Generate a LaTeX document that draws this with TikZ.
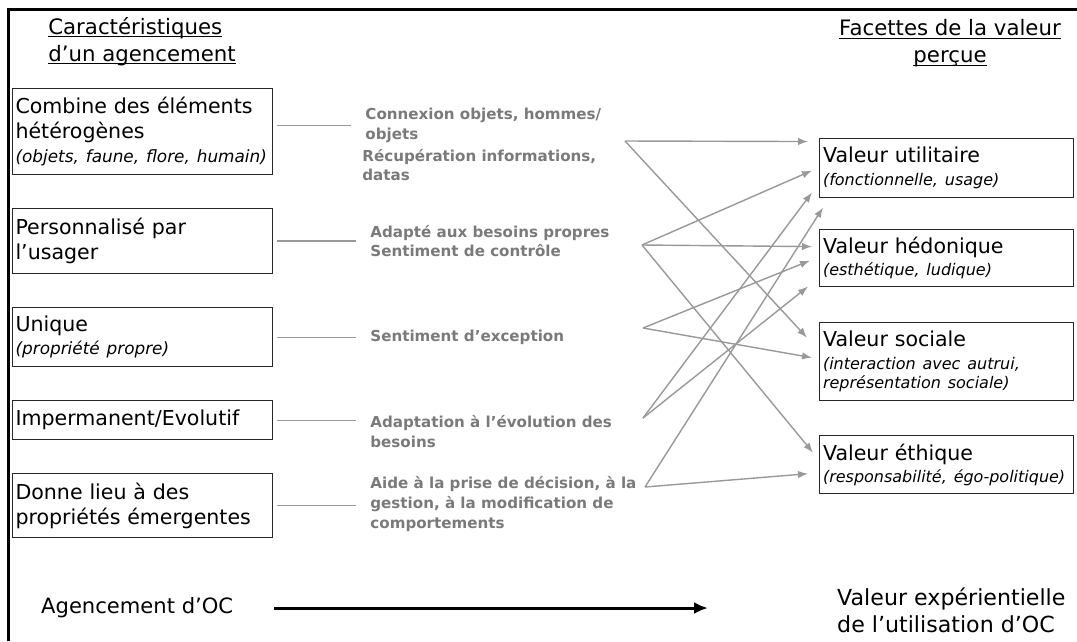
\documentclass[tikz,border=0pt]{standalone}
\usepackage{fontspec}
\setmainfont{DejaVu Sans}
\usetikzlibrary{positioning}
\usetikzlibrary{arrows.meta}
\usetikzlibrary{calc}
\setlength{\parindent}{0pt}
\definecolor{effectgray}{HTML}{7A7A7A}
\definecolor{fangray}{HTML}{999999}
\newcommand{\charnote}[1]{{\par\itshape\fontsize{9.6}{11.3}\selectfont\vspace{2pt}#1\par}}
\newcommand{\facetnote}[1]{{\par\itshape\fontsize{9.1}{11.3}\selectfont\vspace{1.5pt}#1\par}}
\newcommand{\titleline}[1]{\underline{\smash{#1}}\vphantom{#1}}

\begin{document}
\begin{tikzpicture}[x = 0.2mm, y = -0.2mm, node distance = 6.6mm,
    charbox/.style = {draw = black!85, line width = 0.6pt, text width = 50.8mm, inner xsep = 0.6mm, inner ysep = 0.8mm, align = left, font = \fontsize{11.7}{14.2}\selectfont},
    facetbox/.style = {draw = black!85, line width = 0.6pt, text width = 49.4mm, inner xsep = 0.7mm, inner ysep = 0.8mm, align = left, font = \fontsize{11.7}{14.2}\selectfont},
    effect/.style = {text = effectgray, align = left, inner sep = 0.4mm, font = \bfseries\fontsize{8.6}{11.3}\selectfont},
    heading/.style = {inner sep = 0pt, font = \fontsize{12.1}{15.3}\selectfont},
    link/.style = {draw = fangray, line width = 0.7pt, shorten < = 0.8mm, shorten > = 2.4mm},
    fan/.style = {draw = fangray, line width = 0.8pt, -{Latex[length = 2mm, width = 1.5mm]}},
    flow/.style = {draw = black, line width = 1.7pt, -{Latex[length = 2.8mm, width = 2.4mm]}}]
			\useasboundingbox (0,0) rectangle (1077,641);
			\draw[line width = 0.6mm] (8.5,641) -- (8.5,9.5) -- (1077,9.5);
			\node[heading, align = left, anchor = north west] (lefthead) at (48,17) {\titleline{Caractéristiques}\\\titleline{d’un agencement}};
			\node[heading, align = center, anchor = north] (righthead) at (950,19) {\titleline{Facettes de la valeur}\\\titleline{perçue}};
			\node[charbox, minimum height = 17.2mm, anchor = north west] (combine) at (12,88) {Combine des éléments\\hétérogènes\charnote{(objets, faune, flore, humain)}};
			\node[charbox, minimum height = 13mm, below = of combine] (perso) {Personnalisé par\\l’usager};
			\node[charbox, minimum height = 11.8mm, below = of perso] (unique) {Unique\charnote{(propriété propre)}};
			\node[charbox, minimum height = 7.8mm, below = of unique] (evolutif) {Impermanent/Evolutif};
			\node[charbox, minimum height = 12.8mm, below = of evolutif] (emerge) {Donne lieu à des\\propriétés émergentes};
			\node[effect, right = 19mm of combine, yshift = 1.2mm, xshift = -1mm] (connexion) {Connexion objets, hommes/\\objets};
			\node[effect, below = 0.3mm of connexion.south west, anchor = north west, xshift = -0.6mm] (recup) {Récupération informations,\\datas};
			\node[effect, right = 19mm of perso] (besoins) {Adapté aux besoins propres\\Sentiment de contrôle};
			\node[effect, right = 19mm of unique] (exception) {Sentiment d’exception};
			\node[effect, right = 19mm of evolutif, yshift = -2.3mm] (adaptation) {Adaptation à l’évolution des\\besoins};
			\node[effect, right = 19mm of emerge, yshift = 0.4mm] (decision) {Aide à la prise de décision, à la\\gestion, à la modification de\\comportements};
			\draw[link] (connexion.west -| combine.east) -- (connexion.west);
			\draw[link] (perso.east) -- (perso.east -| besoins.west);
			\draw[link] (unique.east) -- (unique.east -| exception.west);
			\draw[link] (evolutif.east) -- (evolutif.east -| adaptation.west);
			\draw[link] (emerge.east) -- (emerge.east -| decision.west);
			\node[facetbox, minimum height = 11.8mm, anchor = north west] (utile) at (819,138) {Valeur utilitaire\facetnote{(fonctionnelle, usage)}};
			\node[facetbox, minimum height = 11.4mm, below = 6.2mm of utile] (hedonique) {Valeur hédonique\facetnote{(esthétique, ludique)}};
			\node[facetbox, minimum height = 15.6mm, below = 7mm of hedonique] (sociale) {Valeur sociale\facetnote{(interaction avec autrui,\\représentation sociale)}};
			\node[facetbox, minimum height = 11.6mm, below = 6.8mm of sociale] (ethique) {Valeur éthique\facetnote{(responsabilité, égo-politique)}};
			\coordinate (f1) at (625,141);
			\coordinate (f2) at (642,245);
			\coordinate (f3) at (643,328);
			\coordinate (f4) at (643,418);
			\coordinate (f5) at (645,487);
			\path (f1) edge[fan] ($(utile.west) + (-11,-26.5)$) edge[fan] ($(sociale.west) + (-12,-24)$);
			\path (f2) edge[fan] ($(utile.west) + (-7,2.5)$) edge[fan] ($(hedonique.west) + (-7,-11.5)$) edge[fan] ($(ethique.west) + (-6,-12)$);
			\path (f3) edge[fan] ($(hedonique.west) + (-9,2.5)$) edge[fan] ($(sociale.west) + (-7,-4)$);
			\path (f4) edge[fan] ($(utile.west) + (-7,24.5)$) edge[fan] ($(hedonique.west) + (-11,28.5)$);
			\path (f5) edge[fan] ($(utile.west) + (4,39.5)$) edge[fan] ($(ethique.west) + (-11,9)$);
			\node[anchor = west, font = \fontsize{12}{15.3}\selectfont] (agencement) at (35,608) {Agencement d’OC};
			\node[anchor = west, align = left, font = \fontsize{12.6}{15.3}\selectfont] (experience) at (831,610) {Valeur expérientielle\\de l’utilisation d’OC};
			\draw[flow, shorten < = 7mm, shorten > = 24.6mm] (agencement.east) -- (agencement.east -| experience.west);
		\end{tikzpicture}
\end{document}
